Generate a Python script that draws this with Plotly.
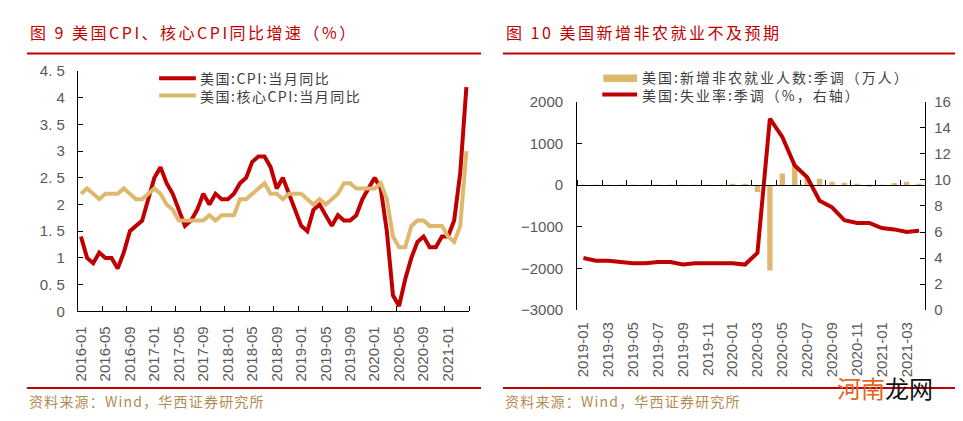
import plotly.graph_objects as go

# ------------------------------------------------------------------ data
cpi_months = [f"{y}-{m:02d}" for y in range(2016, 2022) for m in range(1, 13)][:64]
cpi_yoy = [1.4, 1.0, 0.9, 1.1, 1.0, 1.0, 0.8, 1.1, 1.5, 1.6, 1.7, 2.1,
           2.5, 2.7, 2.4, 2.2, 1.9, 1.6, 1.7, 1.9, 2.2, 2.0, 2.2, 2.1,
           2.1, 2.2, 2.4, 2.5, 2.8, 2.9, 2.9, 2.7, 2.3, 2.5, 2.2, 1.9,
           1.6, 1.5, 1.9, 2.0, 1.8, 1.6, 1.8, 1.7, 1.7, 1.8, 2.1, 2.3,
           2.5, 2.3, 1.5, 0.3, 0.1, 0.6, 1.0, 1.3, 1.4, 1.2, 1.2, 1.4,
           1.4, 1.7, 2.6, 4.2]
core_cpi_yoy = [2.2, 2.3, 2.2, 2.1, 2.2, 2.2, 2.2, 2.3, 2.2, 2.1, 2.1, 2.2,
                2.3, 2.2, 2.0, 1.9, 1.7, 1.7, 1.7, 1.7, 1.7, 1.8, 1.7, 1.8,
                1.8, 1.8, 2.1, 2.1, 2.2, 2.3, 2.4, 2.2, 2.2, 2.1, 2.2, 2.2,
                2.2, 2.1, 2.0, 2.1, 2.0, 2.1, 2.2, 2.4, 2.4, 2.3, 2.3, 2.3,
                2.3, 2.4, 2.1, 1.4, 1.2, 1.2, 1.6, 1.7, 1.7, 1.6, 1.6, 1.6,
                1.4, 1.3, 1.6, 3.0]
cpi_tick_labels = cpi_months[::4]
cpi_y_vals = [0, 0.5, 1, 1.5, 2, 2.5, 3, 3.5, 4, 4.5]
cpi_y_labels = ["0", "0. 5", "1", "1. 5", "2", "2. 5", "3", "3. 5", "4", "4. 5"]

job_months = [f"{y}-{m:02d}" for y in (2019, 2020, 2021) for m in range(1, 13)][:28]
nonfarm_payrolls = [4, -15, 5, 4, 3, 5, 4, 5, 3, 5, 4, 5,
                    20, 25, -165, -2050, 280, 485, 176, 150, 78, 58, 30, -25,
                    5, 52, 78, 26]
unemployment_rate = [4.0, 3.8, 3.8, 3.7, 3.6, 3.6, 3.7, 3.7, 3.5, 3.6, 3.6, 3.6,
                     3.6, 3.5, 4.4, 14.7, 13.3, 11.1, 10.2, 8.4, 7.9, 6.9, 6.7, 6.7,
                     6.3, 6.2, 6.0, 6.1]
job_tick_labels = job_months[::2]

title_left = "图 9 美国CPI、核心CPI同比增速（%）"
title_right = "图 10 美国新增非农就业不及预期"
legend_left = ["美国:CPI:当月同比", "美国:核心CPI:当月同比"]
legend_right = ["美国:新增非农就业人数:季调（万人）", "美国:失业率:季调（%，右轴）"]
source_text = "资料来源：Wind，华西证券研究所"

# ------------------------------------------------------------------ style
W, H = 963, 421
RED = "#C00000"
TAN = "#DFB86F"
GREY = "#595959"
SRC = "#B38B52"
CJK = "Noto Sans CJK SC"
NUM = "Liberation Sans, Arial, sans-serif"


def fx(p):
    return p / W


def fy(p):
    return 1 - p / H


def spaced(text, sp):
    return f'<span style="letter-spacing:{sp}px">{text}</span>'


# plot-area pixel boxes
L_X0, L_X1, L_Y0, L_Y1 = 64.3, 458.3, 56.3, 306.7
R_X0, R_X1, R_Y0, R_Y1 = 566.7, 917.0, 88.3, 305.5
R_YMIN, R_YMAX = -3000, 2000

cpi_x = list(range(len(cpi_months)))
job_x = list(range(len(job_months)))

fig = go.Figure()

fig.add_trace(go.Scatter(x=cpi_x, y=cpi_yoy, mode="lines", name=legend_left[0],
                         line=dict(color=RED, width=4), xaxis="x", yaxis="y",
                         showlegend=False))
fig.add_trace(go.Scatter(x=cpi_x, y=core_cpi_yoy, mode="lines", name=legend_left[1],
                         line=dict(color=TAN, width=4), xaxis="x", yaxis="y",
                         showlegend=False))

fig.add_trace(go.Bar(x=job_x, y=nonfarm_payrolls, name=legend_right[0],
                     marker=dict(color=TAN, line=dict(width=0)),
                     xaxis="x2", yaxis="y2", showlegend=False))
fig.add_trace(go.Scatter(x=job_x, y=unemployment_rate, mode="lines", name=legend_right[1],
                         line=dict(color=RED, width=4), xaxis="x2", yaxis="y3",
                         showlegend=False))
# invisible helper trace so the zero-crossing axis is instantiated
fig.add_trace(go.Scatter(x=job_x, y=nonfarm_payrolls, mode="markers",
                         marker=dict(opacity=0, size=1), hoverinfo="skip",
                         xaxis="x3", yaxis="y2", showlegend=False))

tickfont = dict(family=NUM, size=15, color=GREY)
zero_pos = fy(R_Y0 + (R_YMAX - 0) / (R_YMAX - R_YMIN) * (R_Y1 - R_Y0))

fig.update_layout(
    width=W, height=H,
    margin=dict(l=0, r=0, t=0, b=0),
    paper_bgcolor="white", plot_bgcolor="rgba(0,0,0,0)",
    bargap=0.57,
    xaxis=dict(domain=[fx(L_X0), fx(L_X1)], anchor="y", range=[-0.5, len(cpi_x) - 0.5],
               tickmode="array", tickvals=cpi_x[::4], ticktext=cpi_tick_labels,
               tickangle=-90, ticks="", showline=True, linecolor="black", linewidth=1,
               showgrid=False, zeroline=False, tickfont=tickfont, ticklabelstandoff=8,
               minor=dict(ticks="inside", tick0=-0.5, dtick=4, ticklen=5,
                          tickcolor="black", tickwidth=1, showgrid=False)),
    yaxis=dict(domain=[fy(L_Y1), fy(L_Y0)], anchor="x", range=[0, 4.5],
               tickmode="array", tickvals=cpi_y_vals, ticktext=cpi_y_labels,
               ticks="inside", ticklen=5, tickcolor="black", showline=True,
               linecolor="black", linewidth=1, showgrid=False, zeroline=False,
               tickfont=tickfont, ticklabelstandoff=9),
    xaxis2=dict(domain=[fx(R_X0), fx(R_X1)], anchor="y2", range=[-0.5, len(job_x) - 0.5],
                tickmode="array", tickvals=job_x[::2], ticktext=job_tick_labels,
                tickangle=-90, ticks="", showline=False, showgrid=False, zeroline=False,
                tickfont=tickfont, ticklabelstandoff=8),
    xaxis3=dict(overlaying="x2", anchor="free", position=zero_pos,
                range=[-0.5, len(job_x) - 0.5], showticklabels=False, ticks="",
                showline=True, linecolor="black", linewidth=1, showgrid=False,
                zeroline=False,
                minor=dict(ticks="inside", tick0=-0.5, dtick=2, ticklen=5,
                           tickcolor="black", tickwidth=1, showgrid=False)),
    yaxis2=dict(domain=[fy(R_Y1), fy(R_Y0)], anchor="x2", range=[R_YMIN, R_YMAX],
                dtick=1000, ticks="inside", ticklen=5, tickcolor="black",
                showline=True, linecolor="black", linewidth=1, showgrid=False,
                zeroline=False, tickfont=tickfont, ticklabelstandoff=10),
    yaxis3=dict(overlaying="y2", anchor="x2", side="right", range=[0, 16], dtick=2,
                ticks="inside", ticklen=5, tickcolor="black", showline=True,
                linecolor="black", linewidth=1, showgrid=False, zeroline=False,
                tickfont=tickfont, ticklabelstandoff=5),
)

shapes = []
annotations = []

# header / footer rules
for x0, x1 in ((13, 470), (492, 949)):
    for yy in (38, 386.5):
        shapes.append(dict(type="line", xref="paper", yref="paper",
                           x0=fx(x0), x1=fx(x1), y0=fy(yy), y1=fy(yy),
                           line=dict(color=RED, width=2)))

# titles
for txt, x in ((title_left, 14), (title_right, 493)):
    annotations.append(dict(text=spaced(txt, 2.5), x=fx(x), y=fy(16), xref="paper",
                            yref="paper", xanchor="left", yanchor="middle",
                            showarrow=False, font=dict(family=CJK, size=16, color=RED)))

# sources
for x in (13, 492):
    annotations.append(dict(text=spaced(source_text, 1.2), x=fx(x), y=fy(400),
                            xref="paper", yref="paper", xanchor="left", yanchor="middle",
                            showarrow=False, font=dict(family=CJK, size=14, color=SRC)))

# left legend (samples + one two-line text block)
for col, yy in ((RED, 63.7), (TAN, 81.7)):
    shapes.append(dict(type="line", xref="paper", yref="paper", x0=fx(146), x1=fx(183),
                       y0=fy(yy), y1=fy(yy), line=dict(color=col, width=4)))
annotations.append(dict(text="<br>".join(spaced(t, 1.5) for t in legend_left),
                        x=fx(186), y=fy(72.7), xref="paper", yref="paper",
                        xanchor="left", yanchor="middle", align="left", borderpad=0,
                        showarrow=False, font=dict(family=CJK, size=14, color="#404040")))

# right legend
shapes.append(dict(type="rect", xref="paper", yref="paper", x0=fx(593), x1=fx(627),
                   y0=fy(67.7), y1=fy(60), fillcolor=TAN, line=dict(width=0)))
shapes.append(dict(type="line", xref="paper", yref="paper", x0=fx(592), x1=fx(627),
                   y0=fy(80.7), y1=fy(80.7), line=dict(color=RED, width=4)))
annotations.append(dict(text="<br>".join(spaced(t, 2) for t in legend_right),
                        x=fx(631), y=fy(72.3), xref="paper", yref="paper",
                        xanchor="left", yanchor="middle", align="left", borderpad=0,
                        showarrow=False, font=dict(family=CJK, size=14, color="#404040")))

# site watermark
annotations.append(dict(text='<span style="color:#E2661F">河南</span>龙网',
                        x=fx(826), y=fy(386), xref="paper", yref="paper",
                        xanchor="left", yanchor="middle", showarrow=False,
                        font=dict(family=CJK, size=24, color="#111111")))

fig.update_layout(shapes=shapes, annotations=annotations)
fig.write_html("out.html")
